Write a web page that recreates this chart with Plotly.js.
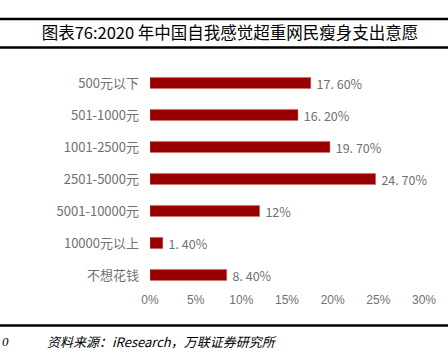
<!DOCTYPE html>
<html>
<head>
<meta charset="utf-8">
<script src="https://cdn.plot.ly/plotly-3.0.1.min.js"></script>
<style>
  html, body { margin: 0; padding: 0; background: #fff; }
  #chart { width: 448px; height: 356px; }
</style>
</head>
<body>
<div id="chart"></div>
<script>
const categories = ["500元以下", "501-1000元", "1001-2500元", "2501-5000元", "5001-10000元", "10000元以上", "不想花钱"];
const values = [17.6, 16.2, 19.7, 24.7, 12, 1.4, 8.4];
const valueLabels = ["17. 60%", "16. 20%", "19. 70%", "24. 70%", "12%", "1. 40%", "8. 40%"];
const xTickVals = [0, 5, 10, 15, 20, 25, 30];
const xTickText = ["0%", "5%", "10%", "15%", "20%", "25%", "30%"];
const titleText = "图表76:2020 年中国自我感觉超重网民瘦身支出意愿";
const sourceText = "资料来源：iResearch，万联证券研究所";

const W = 448, H = 356;
const L = 150, R = 24, T = 67, B = 65;
const pw = W - L - R, ph = H - T - B;
const px = x => (x - L) / pw;
const py = y => (H - B - y) / ph;

const cjk = '"Noto Sans CJK SC", "Liberation Sans", sans-serif';

const trace = {
  type: 'bar',
  orientation: 'h',
  x: values,
  y: categories,
  text: valueLabels.map(s => ' ' + s),
  textposition: 'outside',
  constraintext: 'none',
  cliponaxis: false,
  textfont: { family: cjk, size: 12.5, color: '#707070' },
  marker: { color: '#990000', line: { color: '#c07070', width: 0.5 } },
  hoverinfo: 'none'
};

const lineShape = (y) => ({
  type: 'line', xref: 'paper', yref: 'paper',
  x0: px(0), x1: px(W), y0: py(y), y1: py(y),
  line: { color: '#000', width: 2.5 }
});

const layout = {
  width: W, height: H,
  margin: { l: L, r: R, t: T, b: B },
  paper_bgcolor: '#fff', plot_bgcolor: '#fff',
  showlegend: false,
  bargap: 0.65,
  title: {
    text: titleText,
    x: 230 / W, xanchor: 'center', xref: 'container',
    y: 1 - 33 / H, yanchor: 'middle', yref: 'container',
    font: { family: cjk, size: 16.5, color: '#000' }
  },
  xaxis: {
    range: [0, 30],
    tickvals: xTickVals, ticktext: xTickText,
    showgrid: false, zeroline: false, showline: false,
    ticks: '', ticklen: 0,
    tickfont: { family: '"Liberation Sans", Arial, sans-serif', size: 12, color: '#707070' }
  },
  yaxis: {
    autorange: 'reversed',
    showgrid: false, zeroline: false, showline: false,
    ticks: '', ticklabelstandoff: 10,
    tickfont: { family: cjk, size: 13, color: '#707070' }
  },
  shapes: [lineShape(19), lineShape(47.5), lineShape(325.5)],
  annotations: [
    {
      text: sourceText, xref: 'paper', yref: 'paper',
      x: px(45), y: py(341), xanchor: 'left', yanchor: 'middle', showarrow: false,
      font: { family: cjk, size: 13, color: '#000', style: 'italic' }
    },
    {
      text: '0', xref: 'paper', yref: 'paper',
      x: px(0), y: py(341), xanchor: 'left', yanchor: 'middle', showarrow: false,
      font: { family: '"Liberation Serif", serif', size: 13, color: '#000', style: 'italic' }
    }
  ]
};

Plotly.newPlot('chart', [trace], layout, { staticPlot: true, displayModeBar: false });
</script>
</body>
</html>
